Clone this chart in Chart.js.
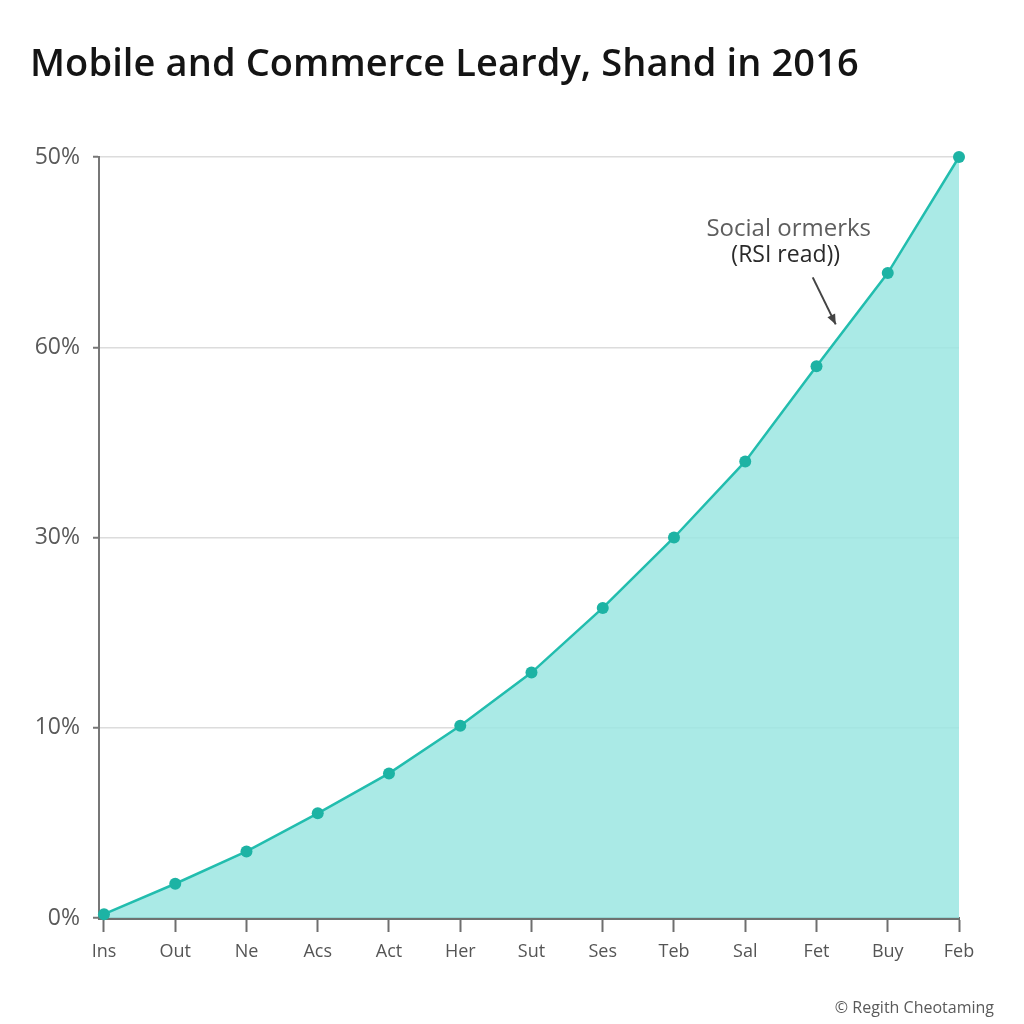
<!DOCTYPE html>
<html>
<head>
<meta charset="utf-8">
<script src="https://cdn.jsdelivr.net/npm/chart.js@4/dist/chart.umd.min.js"></script>
<style>
  html, body { margin: 0; padding: 0; background: #ffffff; }
  #wrap { position: relative; width: 1024px; height: 1024px; overflow: hidden; background: #fff; }
  #c { position: absolute; left: 0; top: 0; }
  #title { position: absolute; left: 30px; top: 35px; font-family: "Open Sans", sans-serif; font-weight: 600;
           font-size: 38px; color: #141414; white-space: nowrap; letter-spacing: 0.1px; }
  #footer { position: absolute; right: 30px; top: 996px; font-family: "Open Sans", sans-serif;
            font-size: 16px; color: #5a5a5a; white-space: nowrap; }
</style>
</head>
<body>
<div id="wrap">
  <canvas id="c" width="1024" height="1024"></canvas>
  <div id="title">Mobile and Commerce Leardy, Shand in 2016</div>
  <div id="footer">© Regith Cheotaming</div>
</div>
<script>
// ---- data ----
const categories = ["Ins", "Out", "Ne", "Acs", "Act", "Her", "Sut", "Ses", "Teb", "Sal", "Fet", "Buy", "Feb"];
const seriesValues = [0.2, 1.8, 3.5, 5.5, 7.6, 10.1, 12.9, 16.3, 20.0, 24.0, 29.0, 33.9, 40.0];
const yTickLabels = ["0%", "10%", "30%", "60%", "50%"];
const annotationLines = ["Social ormerks", "(RSI read))"];
const annotationAnchor = { x: 10.27, y: 31.2 };

const points = seriesValues.map((v, i) => ({ x: i, y: v }));

const annotationPlugin = {
  id: 'annot',
  afterDatasetsDraw(chart) {
    const ctx = chart.ctx;
    const xs = chart.scales.x, ys = chart.scales.y;
    const tx = xs.getPixelForValue(annotationAnchor.x);
    const ty = ys.getPixelForValue(annotationAnchor.y);
    ctx.save();
    ctx.textAlign = 'center';
    ctx.textBaseline = 'middle';
    ctx.font = '500 24px "Open Sans", sans-serif';
    ctx.fillStyle = '#5e5e5e';
    ctx.fillText(annotationLines[0], tx - 47, ty - 95);
    ctx.font = '500 23px "Open Sans", sans-serif';
    ctx.fillStyle = '#2a2a2a';
    ctx.fillText(annotationLines[1], tx - 50, ty - 69);
    // arrow
    const sx = tx - 23, sy = ty - 47;
    ctx.strokeStyle = '#444';
    ctx.fillStyle = '#444';
    ctx.lineWidth = 2;
    ctx.beginPath();
    ctx.moveTo(sx, sy);
    ctx.lineTo(tx, ty);
    ctx.stroke();
    const ang = Math.atan2(ty - sy, tx - sx);
    ctx.beginPath();
    ctx.moveTo(tx, ty);
    ctx.lineTo(tx - 11 * Math.cos(ang - 0.4), ty - 11 * Math.sin(ang - 0.4));
    ctx.lineTo(tx - 11 * Math.cos(ang + 0.4), ty - 11 * Math.sin(ang + 0.4));
    ctx.closePath();
    ctx.fill();
    ctx.restore();
  }
};

new Chart(document.getElementById('c'), {
  type: 'line',
  data: {
    datasets: [{
      data: points,
      borderColor: '#22bdae',
      borderWidth: 2.5,
      backgroundColor: 'rgba(155, 230, 226, 0.85)',
      fill: 'origin',
      tension: 0,
      pointRadius: 6,
      pointHoverRadius: 6,
      pointBackgroundColor: '#1db3a4',
      pointBorderWidth: 0,
      clip: false
    }]
  },
  options: {
    responsive: false,
    animation: false,
    events: [],
    layout: { padding: { top: 157, right: 65, bottom: 46, left: 0 } },
    plugins: { legend: { display: false }, tooltip: { enabled: false }, title: { display: false } },
    scales: {
      x: {
        type: 'linear',
        min: -0.07,
        max: 12,
        afterFit(scale) { scale.height = 60; },
        border: { display: true, color: '#6e7270', width: 3 },
        grid: { drawOnChartArea: false, drawTicks: true, tickLength: 14, tickColor: '#6e6e6e', tickWidth: 2 },
        ticks: {
          stepSize: 1,
          includeBounds: false,
          autoSkip: false,
          maxRotation: 0,
          padding: 9,
          color: '#555',
          font: { family: '"Open Sans", sans-serif', size: 18 },
          callback: (v) => (Number.isInteger(v) ? categories[v] : '')
        }
      },
      y: {
        min: 0,
        max: 40,
        afterFit(scale) { scale.width = 99; },
        border: { display: true, color: '#777', width: 2 },
        grid: { color: '#dcdcdc', lineWidth: 1.5, tickLength: 6, tickColor: '#777', tickWidth: 2 },
        ticks: {
          stepSize: 10,
          padding: 13,
          color: '#5a5a5a',
          font: { family: '"Open Sans", sans-serif', size: 23, weight: '500' },
          callback: (v) => yTickLabels[Math.round(v / 10)]
        }
      }
    }
  },
  plugins: [annotationPlugin]
});
</script>
</body>
</html>
